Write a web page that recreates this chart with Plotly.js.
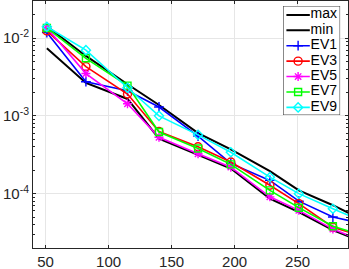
<!DOCTYPE html>
<html><head><meta charset="utf-8">
<script src="https://cdn.plot.ly/plotly-3.0.1.min.js"></script>
<style>html,body{margin:0;padding:0;background:#fff}#chart{width:349px;height:269px}</style>
</head><body><div id="chart"></div>
<script>
// ---- data ----
const xVals  = [51, 82, 115, 140, 171, 197, 228, 251, 278, 305];
const maxVals = [1.42e-2, 5.9e-3, 2.55e-3, 1.38e-3, 6.0e-4, 3.7e-4, 1.95e-4, 1.1e-4, 7.1e-5, 4.3e-5];
const minVals = [7.4e-3, 2.65e-3, 1.65e-3, 5.1e-4, 3.15e-4, 2.1e-4, 8.6e-5, 5.8e-5, 3.4e-5, 2.25e-5];
const ev1 = [1.18e-2, 2.75e-3, 2.1e-3, 1.3e-3, 5.5e-4, 2.45e-4, 1.48e-4, 8.0e-5, 5.0e-5, 4.0e-5];
const ev3 = [1.24e-2, 4.3e-3, 1.91e-3, 6.3e-4, 4.0e-4, 2.55e-4, 1.28e-4, 7.45e-5, 3.7e-5, 2.7e-5];
const ev5 = [1.36e-2, 3.5e-3, 1.43e-3, 5.3e-4, 3.26e-4, 2.19e-4, 9.1e-5, 6.1e-5, 3.5e-5, 2.35e-5];
const ev7 = [1.35e-2, 5.5e-3, 2.45e-3, 6.2e-4, 3.8e-4, 2.38e-4, 1.1e-4, 6.6e-5, 3.8e-5, 2.8e-5];
const ev9 = [1.40e-2, 7.0e-3, 2.3e-3, 1.0e-3, 5.7e-4, 3.4e-4, 1.63e-4, 1.0e-4, 6.4e-5, 4.2e-5];
const seriesNames = ['max', 'min', 'EV1', 'EV3', 'EV5', 'EV7', 'EV9'];
const xTickVals = [50, 100, 150, 200, 250];
const yTickVals = [1e-4, 1e-3, 1e-2];
const yTickText = ['10<sup>-4</sup>', '10<sup>-3</sup>', '10<sup>-2</sup>'];

// ---- styles ----
const seriesData = [maxVals, minVals, ev1, ev3, ev5, ev7, ev9];
const styles = [
  {color: '#000000', width: 2, symbol: null, size: 0},
  {color: '#000000', width: 2, symbol: null, size: 0},
  {color: '#0000ff', width: 1.6, symbol: 'cross-thin-open', size: 7},
  {color: '#ff0000', width: 1.6, symbol: 'circle-open', size: 8},
  {color: '#ff00ff', width: 1.6, symbol: 'asterisk-open', size: 7.5},
  {color: '#00ff00', width: 1.6, symbol: 'square-open', size: 7},
  {color: '#00ffff', width: 1.6, symbol: 'diamond-open', size: 7}
];
const FONT = 'Liberation Sans, Arial, Helvetica, sans-serif';
const AXC = '#262626';

const traces = [];
seriesData.forEach((vals, i) => {
  const s = styles[i];
  const t = {
    x: xVals, y: vals, type: 'scatter', name: seriesNames[i],
    mode: s.symbol ? 'lines+markers' : 'lines',
    line: {color: s.color, width: s.width},
    hoverinfo: 'skip', showlegend: false
  };
  if (s.symbol) t.marker = {symbol: s.symbol, size: s.size, color: s.color, line: {color: s.color, width: 1.4}};
  traces.push(t);
});

// ---- custom legend in an inset axis ----
const legW = 57;               // inset axis units = px
const sampleX = [3.3, 15, 26.7];
const textX = 27.5;
seriesNames.forEach((nm, i) => {
  const s = styles[i];
  const t = {
    x: sampleX, y: [i, i, i], xaxis: 'x2', yaxis: 'y2', type: 'scatter',
    mode: s.symbol ? 'lines+markers' : 'lines',
    line: {color: s.color, width: s.width},
    hoverinfo: 'skip', showlegend: false, cliponaxis: false
  };
  if (s.symbol) t.marker = {symbol: s.symbol, size: s.size, color: s.color, opacity: [0, 1, 0], line: {color: s.color, width: 1.4}};
  traces.push(t);
});
traces.push({
  x: seriesNames.map(() => textX), y: seriesNames.map((_, i) => i), text: seriesNames,
  xaxis: 'x2', yaxis: 'y2', type: 'scatter', mode: 'text', textposition: 'middle right',
  textfont: {family: FONT, size: 14, color: '#000'}, hoverinfo: 'skip', showlegend: false, cliponaxis: false
});

const layout = {
  width: 349, height: 269,
  margin: {l: 33, r: 1, t: 1, b: 21, pad: 0},
  paper_bgcolor: '#fff', plot_bgcolor: '#fff',
  showlegend: false,
  font: {family: FONT, color: AXC},
  xaxis: {
    type: 'linear', range: [40, 290], tickvals: xTickVals, ticktext: xTickVals.map(String),
    ticks: 'inside', ticklen: 3, tickcolor: AXC, tickwidth: 1,
    showline: true, linecolor: AXC, linewidth: 1, mirror: 'allticks',
    showgrid: true, gridcolor: '#e6e6e6', gridwidth: 1, zeroline: false,
    tickfont: {family: FONT, size: 15, color: AXC}, fixedrange: true
  },
  yaxis: {
    type: 'log', range: [Math.log10(2e-5), Math.log10(3e-2)],
    tickvals: yTickVals, ticktext: yTickText,
    ticks: 'inside', ticklen: 3, tickcolor: AXC, tickwidth: 1,
    minor: {ticks: 'inside', ticklen: 2, tickcolor: AXC, dtick: 'D1', showgrid: false},
    showline: true, linecolor: AXC, linewidth: 1, mirror: 'allticks',
    showgrid: true, gridcolor: '#e6e6e6', gridwidth: 1, zeroline: false,
    tickfont: {family: FONT, size: 15, color: AXC}, fixedrange: true
  },
  xaxis2: {domain: [0.794, 0.975], range: [0, legW], anchor: 'y2', visible: false, fixedrange: true},
  yaxis2: {domain: [0.538, 0.980], range: [6.5, -0.58], anchor: 'x2', visible: false, fixedrange: true},
  shapes: [{
    type: 'rect', xref: 'x2', yref: 'y2', x0: 0, x1: legW, y0: -0.58, y1: 6.5,
    fillcolor: '#ffffff', line: {color: AXC, width: 1}, layer: 'below'
  }]
};

Plotly.newPlot('chart', traces, layout, {displayModeBar: false, staticPlot: true});
</script>
</body></html>
